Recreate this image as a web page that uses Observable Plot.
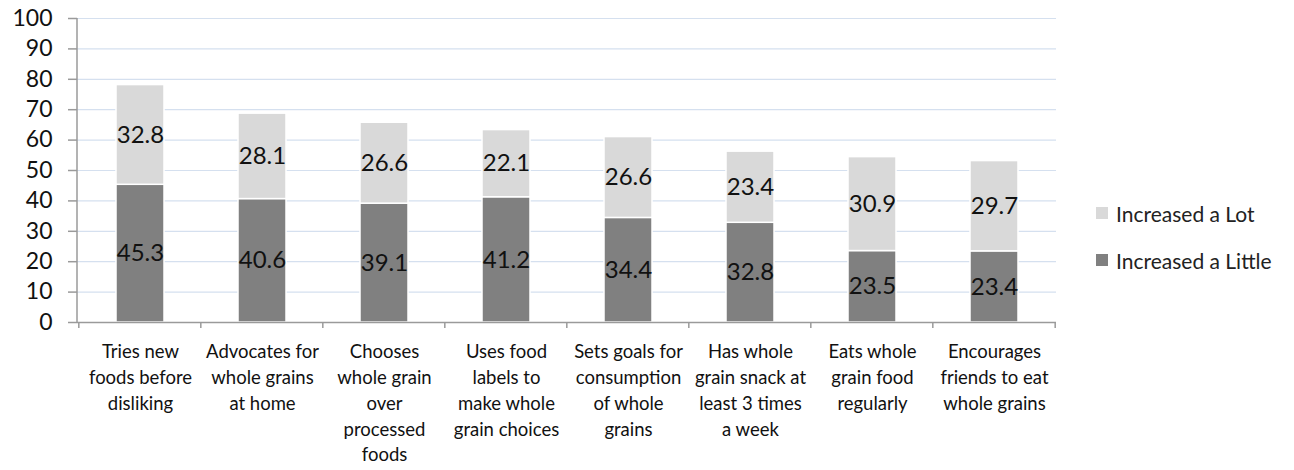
<!DOCTYPE html>
<html>
<head>
<meta charset="utf-8">
<script src="https://cdn.jsdelivr.net/npm/d3@7"></script>
<script src="https://cdn.jsdelivr.net/npm/@observablehq/plot@0.6"></script>
<style>
  html, body { margin: 0; padding: 0; background: #fff; }
  #wrap { position: relative; width: 1294px; height: 470px; font-family: Lato, "Open Sans", sans-serif; }
  #legend { position: absolute; left: 1096px; top: 200px; font-size: 21px; color: #222; }
  #legend div { display: flex; align-items: center; height: 26px; margin-bottom: 21px; }
  #legend span.sw { display: inline-block; width: 12px; height: 12px; margin-right: 8px; }
</style>
</head>
<body>
<div id="wrap"></div>
<script>
const categories = [
  "Tries new\nfoods before\ndisliking",
  "Advocates for\nwhole grains\nat home",
  "Chooses\nwhole grain\nover\nprocessed\nfoods",
  "Uses food\nlabels to\nmake whole\ngrain choices",
  "Sets goals for\nconsumption\nof whole\ngrains",
  "Has whole\ngrain snack at\nleast 3 times\na week",
  "Eats whole\ngrain food\nregularly",
  "Encourages\nfriends to eat\nwhole grains"
];
const increasedLittle = [45.3, 40.6, 39.1, 41.2, 34.4, 32.8, 23.5, 23.4];
const increasedLot = [32.8, 28.1, 26.6, 22.1, 26.6, 23.4, 30.9, 29.7];
const seriesNames = ["Increased a Little", "Increased a Lot"];
const seriesColors = ["#808080", "#d9d9d9"];
const yTicks = [0, 10, 20, 30, 40, 50, 60, 70, 80, 90, 100];

const data = [];
categories.forEach((c, i) => {
  data.push({cat: c, series: seriesNames[0], value: increasedLittle[i], order: 0});
  data.push({cat: c, series: seriesNames[1], value: increasedLot[i], order: 1});
});

const W = 1294, H = 470, ML = 77, MR = 238, MT = 18, MB = 148;
const step = (W - ML - MR) / categories.length;
const font = "Lato, 'Open Sans', sans-serif";

const chart = Plot.plot({
  width: W, height: H,
  marginLeft: ML, marginRight: MR, marginTop: MT, marginBottom: MB,
  style: {fontFamily: font, background: "#fff", color: "#111"},
  x: {domain: categories, paddingInner: 0.61, paddingOuter: 0.305, label: null},
  y: {domain: [0, 100], label: null},
  color: {domain: seriesNames, range: seriesColors},
  marks: [
    Plot.gridY(yTicks, {stroke: "#d5e0ef", strokeOpacity: 1, strokeWidth: 1.2}),
    Plot.barY(data, Plot.stackY({x: "cat", y: "value", fill: "series", order: "order", stroke: "#fff", strokeWidth: 1.5})),
    Plot.text(data, Plot.stackY({x: "cat", y: "value", order: "order", text: d => d.value.toFixed(1), fontSize: 24, fill: "#111"})),
    Plot.ruleY([0], {stroke: "#9a9a9a", strokeWidth: 1.5}),
    Plot.axisY(yTicks, {tickSize: 9, tickFormat: () => "", stroke: "#9a9a9a", strokeWidth: 1.5}),
    Plot.text(yTicks, {y: d => d, text: d => String(d), frameAnchor: "left", textAnchor: "end", dx: -25, fontSize: 23, fill: "#111"}),
    Plot.axisX({tickSize: 0, tickPadding: 17, fontSize: 18.5, lineHeight: 1.4, fill: "#111"})
  ]
});

const xs = chart.scale("x");
const ys = chart.scale("y");
const wrap = document.getElementById("wrap");
wrap.appendChild(chart);

// vertical axis line and category-boundary ticks, positioned from the scales
const svg = d3.select(chart);
const y0 = ys.apply(0), y100 = ys.apply(100);
svg.append("line").attr("x1", ML).attr("x2", ML).attr("y1", y100).attr("y2", y0)
  .attr("stroke", "#9a9a9a").attr("stroke-width", 1.5);
const bounds = categories.map(c => xs.apply(c) - (step - xs.bandwidth) / 2);
bounds.push(bounds[bounds.length - 1] + step);
bounds.forEach(b => {
  svg.append("line").attr("x1", b).attr("x2", b).attr("y1", y0).attr("y2", y0 + 6)
    .attr("stroke", "#9a9a9a").attr("stroke-width", 1.5);
});

// legend
const leg = document.createElement("div");
leg.id = "legend";
[[seriesNames[1], seriesColors[1]], [seriesNames[0], seriesColors[0]]].forEach(([n, c]) => {
  const row = document.createElement("div");
  row.innerHTML = `<span class="sw" style="background:${c}"></span><span>${n}</span>`;
  leg.appendChild(row);
});
wrap.appendChild(leg);
</script>
</body>
</html>
